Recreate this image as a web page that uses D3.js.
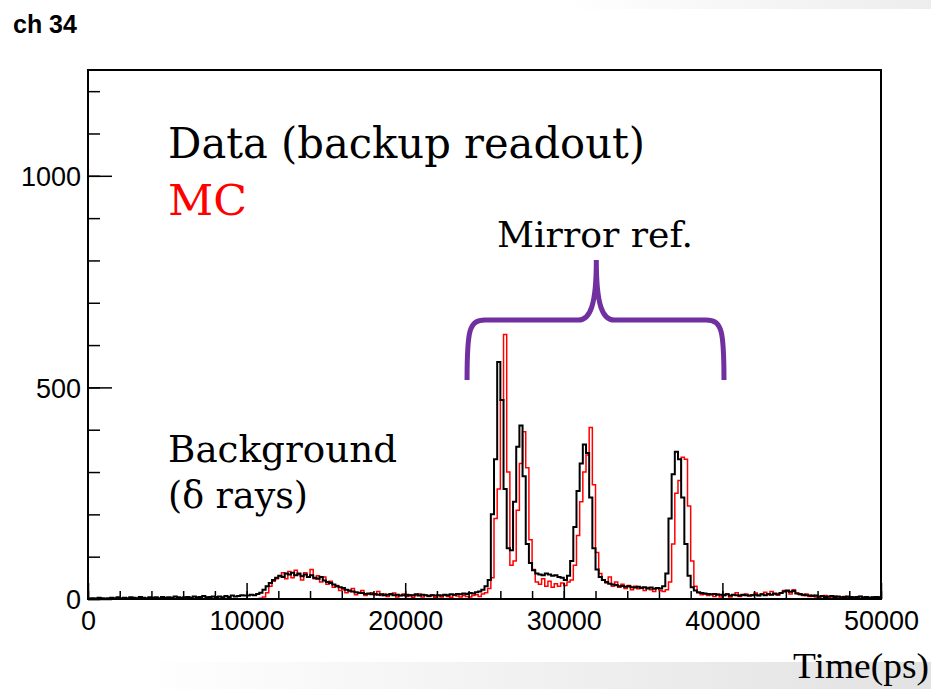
<!DOCTYPE html>
<html>
<head>
<meta charset="utf-8">
<script src="https://cdn.jsdelivr.net/npm/d3@7"></script>
<style>
  body { margin: 0; background: #fff; }
  svg { display: block; }
</style>
</head>
<body>
<script>
// Canvas size
var svgWidth = 931;
var svgHeight = 689;

// Frame of the histogram
var frame = { left: 88, right: 881, top: 70, bottom: 599 };

// Histogram binning (ps)
var binWidth = 200;
var xDomain = [0, 50000];
var yDomain = [0, 1250];

// Data (backup readout), counts per 200 ps bin, 0 -> 50000 ps
var dataCounts = [
  1, 2, 1, 3, 2, 1, 2, 3, 2, 4,
  2, 3, 2, 4, 3, 2, 5, 3, 2, 4,
  3, 4, 2, 5, 3, 4, 3, 6, 4, 3,
  4, 5, 3, 6, 4, 5, 7, 4, 5, 6,
  5, 6, 4, 7, 5, 8, 6, 7, 9, 8,
  8, 10, 9, 12, 15, 22, 30, 38, 45, 50,
  55, 52, 60, 58, 62, 56, 60, 54, 58, 52,
  56, 50, 48, 52, 44, 40, 38, 34, 30, 28,
  26, 22, 20, 18, 16, 15, 14, 12, 13, 11,
  12, 10, 11, 9, 10, 12, 9, 10, 8, 9,
  10, 8, 9, 11, 8, 10, 9, 7, 9, 8,
  9, 8, 10, 9, 11, 10, 12, 11, 13, 12,
  14, 13, 16, 18, 22, 30, 45, 200, 330, 560,
  470, 260, 120, 115, 230, 360, 410, 290, 130, 85,
  68, 60, 58, 56, 60, 58, 55, 56, 52, 50,
  45, 55, 90, 170, 255, 320, 365, 345, 240, 120,
  70, 52, 45, 40, 36, 34, 33, 30, 31, 29,
  30, 28, 27, 29, 26, 28, 25, 27, 24, 26,
  25, 30, 60, 190, 295, 348, 330, 240, 130, 55,
  28, 20, 16, 14, 13, 12, 11, 12, 10, 10,
  9, 11, 8, 10, 9, 8, 10, 9, 8, 9,
  10, 8, 11, 9, 12, 10, 13, 11, 14, 18,
  20, 17, 19, 13, 12, 10, 9, 8, 7, 8,
  6, 7, 5, 6, 7, 5, 6, 4, 5, 6,
  5, 4, 5, 6, 4, 5, 3, 4, 5, 4
];

// MC, counts per 200 ps bin
var mcCounts = [
  0, 0, 0, 0, 0, 0, 0, 0, 0, 0,
  0, 0, 0, 0, 0, 0, 0, 0, 0, 0,
  0, 0, 0, 0, 0, 0, 0, 0, 0, 0,
  0, 0, 0, 0, 0, 0, 0, 0, 0, 0,
  0, 0, 0, 0, 0, 0, 0, 0, 0, 0,
  0, 0, 0, 0, 2, 5, 15, 30, 42, 48,
  55, 62, 48, 65, 50, 68, 58, 45, 62, 52,
  70, 48, 55, 40, 52, 35, 42, 28, 32, 20,
  22, 15, 18, 25, 10, 14, 20, 8, 12, 15,
  10, 18, 8, 12, 6, 10, 14, 5, 8, 12,
  6, 10, 4, 8, 12, 5, 9, 6, 10, 4,
  8, 5, 10, 6, 4, 9, 7, 5, 8, 6,
  5, 8, 10, 6, 12, 15, 25, 50, 190, 260,
  470, 625, 300, 80, 90, 210, 320, 395, 310, 140,
  70, 40, 35, 48, 30, 42, 28, 36, 30, 38,
  32, 40, 45, 80, 150, 230, 300, 340, 405, 270,
  110, 60, 45, 38, 52, 30, 40, 28, 35, 25,
  32, 22, 30, 24, 28, 20, 26, 22, 18, 25,
  20, 18, 22, 40, 130, 250, 280, 335, 330, 220,
  90, 30, 15, 10, 12, 8, 10, 6, 12, 5,
  8, 12, 5, 10, 15, 6, 9, 12, 7, 10,
  14, 8, 12, 16, 10, 18, 12, 9, 15, 20,
  18, 12, 22, 14, 10, 8, 12, 6, 9, 5,
  4, 6, 8, 3, 5, 7, 2, 4, 6, 3,
  5, 2, 4, 6, 3, 5, 2, 4, 3, 5
];

// Axis ticks
var xMajorTicks = [0, 10000, 20000, 30000, 40000, 50000];
var xMinorTicks = d3.range(0, 50001, 2000);
var yMajorTicks = [0, 500, 1000];
var yMinorTicks = d3.range(0, 1201, 100);

var svg = d3.select("body")
            .append("svg")
            .attr("width", svgWidth)
            .attr("height", svgHeight);

// light grey fades of the slide background
var defs = svg.append("defs");
var grad = defs.append("linearGradient").attr("id", "fade");
grad.append("stop").attr("offset", "0%").attr("stop-color", "#ffffff");
grad.append("stop").attr("offset", "15%").attr("stop-color", "#ffffff");
grad.append("stop").attr("offset", "100%").attr("stop-color", "#e2e2e2");
svg.append("rect")
   .attr("x", 0).attr("y", 662)
   .attr("width", svgWidth).attr("height", svgHeight - 662)
   .attr("fill", "url(#fade)");

var gradTop = defs.append("linearGradient").attr("id", "fadeTop");
gradTop.append("stop").attr("offset", "0%").attr("stop-color", "#ffffff");
gradTop.append("stop").attr("offset", "100%").attr("stop-color", "#ededed");
svg.append("rect")
   .attr("x", 560).attr("y", 0)
   .attr("width", svgWidth - 560).attr("height", 9)
   .attr("fill", "url(#fadeTop)");

defs.append("clipPath").attr("id", "plotClip")
    .append("rect")
    .attr("x", frame.left).attr("y", frame.top)
    .attr("width", frame.right - frame.left)
    .attr("height", frame.bottom - frame.top);

// Scales
var x = d3.scaleLinear().domain(xDomain).range([frame.left, frame.right]);
var y = d3.scaleLinear().domain(yDomain).range([frame.bottom, frame.top]);

// Histogram outline as steps
function stepPoints(counts) {
  var pts = counts.map(function(c, i) { return [i * binWidth, c]; });
  pts.push([counts.length * binWidth, counts[counts.length - 1]]);
  return pts;
}
var histLine = d3.line()
                 .x(function(d) { return x(d[0]); })
                 .y(function(d) { return y(d[1]); })
                 .curve(d3.curveStepAfter);

var plot = svg.append("g").attr("clip-path", "url(#plotClip)");

plot.append("path")
    .attr("d", histLine(stepPoints(mcCounts)))
    .attr("fill", "none")
    .attr("stroke", "#ff0000")
    .attr("stroke-width", 1.5);

plot.append("path")
    .attr("d", histLine(stepPoints(dataCounts)))
    .attr("fill", "none")
    .attr("stroke", "#000000")
    .attr("stroke-width", 2);

// Axes: minor ticks first, then majors with labels
svg.append("g")
   .attr("transform", "translate(0," + frame.bottom + ")")
   .call(d3.axisBottom(x).tickValues(xMinorTicks).tickSize(-8).tickFormat(""))
   .call(function(g) { g.select(".domain").remove(); });

var xAxis = svg.append("g")
   .attr("transform", "translate(0," + frame.bottom + ")")
   .call(d3.axisBottom(x).tickValues(xMajorTicks).tickSize(-16).tickPadding(12).tickFormat(d3.format("d")));
xAxis.select(".domain").remove();

svg.append("g")
   .attr("transform", "translate(" + frame.left + ",0)")
   .call(d3.axisLeft(y).tickValues(yMinorTicks).tickSize(-12).tickFormat(""))
   .call(function(g) { g.select(".domain").remove(); });

var yAxis = svg.append("g")
   .attr("transform", "translate(" + frame.left + ",0)")
   .call(d3.axisLeft(y).tickValues(yMajorTicks).tickSize(-24).tickPadding(7).tickFormat(d3.format("d")));
yAxis.select(".domain").remove();

svg.selectAll(".tick line").attr("stroke", "#000").attr("stroke-width", 1.5);
svg.selectAll(".tick text")
   .attr("font-family", "'Liberation Sans', Arial, sans-serif")
   .attr("font-size", 27)
   .attr("fill", "#000");
yAxis.selectAll(".tick text").attr("dy", "0.36em");

// Frame
svg.append("rect")
   .attr("x", frame.left).attr("y", frame.top)
   .attr("width", frame.right - frame.left)
   .attr("height", frame.bottom - frame.top)
   .attr("fill", "none")
   .attr("stroke", "#000")
   .attr("stroke-width", 2);

// Title
svg.append("text")
   .attr("x", 13).attr("y", 33)
   .attr("font-family", "'Liberation Sans', Arial, sans-serif")
   .attr("font-weight", "bold")
   .attr("font-size", 25)
   .text("ch 34");

// Axis title
svg.append("text")
   .attr("x", 929).attr("y", 678)
   .attr("text-anchor", "end")
   .attr("font-family", "'Liberation Serif', 'Times New Roman', serif")
   .attr("font-size", 36)
   .attr("textLength", 136)
   .attr("lengthAdjust", "spacingAndGlyphs")
   .text("Time(ps)");

// Annotations
var notes = [
  { text: "Data (backup readout)", x: 168, y: 158, size: 42, w: 477, color: "#000" },
  { text: "MC", x: 168, y: 215, size: 42, w: 79, color: "#ff0000" },
  { text: "Mirror ref.", x: 497, y: 247, size: 36, w: 196, color: "#000" },
  { text: "Background", x: 168, y: 462, size: 38, w: 229, color: "#000" },
  { text: "(\u03b4 rays)", x: 168, y: 508, size: 38, w: 140, color: "#000" }
];
svg.selectAll("text.note")
   .data(notes)
   .enter()
   .append("text")
   .attr("class", "note")
   .attr("x", function(d) { return d.x; })
   .attr("y", function(d) { return d.y; })
   .attr("font-family", "'DejaVu Serif', serif")
   .attr("font-size", function(d) { return d.size; })
   .attr("textLength", function(d) { return d.w; })
   .attr("lengthAdjust", "spacingAndGlyphs")
   .attr("fill", function(d) { return d.color; })
   .text(function(d) { return d.text; });

// Curly brace over the mirror reflection peaks (24000 -> 40000 ps)
var bl = x(23900), br = x(40100), bm = x(32050);
var braceTop = 320, braceTip = 260, braceEnd = 380;
svg.append("path")
   .attr("d",
     "M" + bl + "," + braceEnd +
     " C" + bl + "," + (braceTop + 10) + " " + (bl + 2) + "," + braceTop + " " + (bl + 18) + "," + braceTop +
     " L" + (bm - 18) + "," + braceTop +
     " C" + (bm - 6) + "," + braceTop + " " + bm + "," + (braceTop - 15) + " " + bm + "," + braceTip +
     " C" + bm + "," + (braceTop - 15) + " " + (bm + 6) + "," + braceTop + " " + (bm + 18) + "," + braceTop +
     " L" + (br - 18) + "," + braceTop +
     " C" + (br - 2) + "," + braceTop + " " + br + "," + (braceTop + 10) + " " + br + "," + braceEnd)
   .attr("fill", "none")
   .attr("stroke", "#7030a0")
   .attr("stroke-width", 5);
</script>
</body>
</html>
